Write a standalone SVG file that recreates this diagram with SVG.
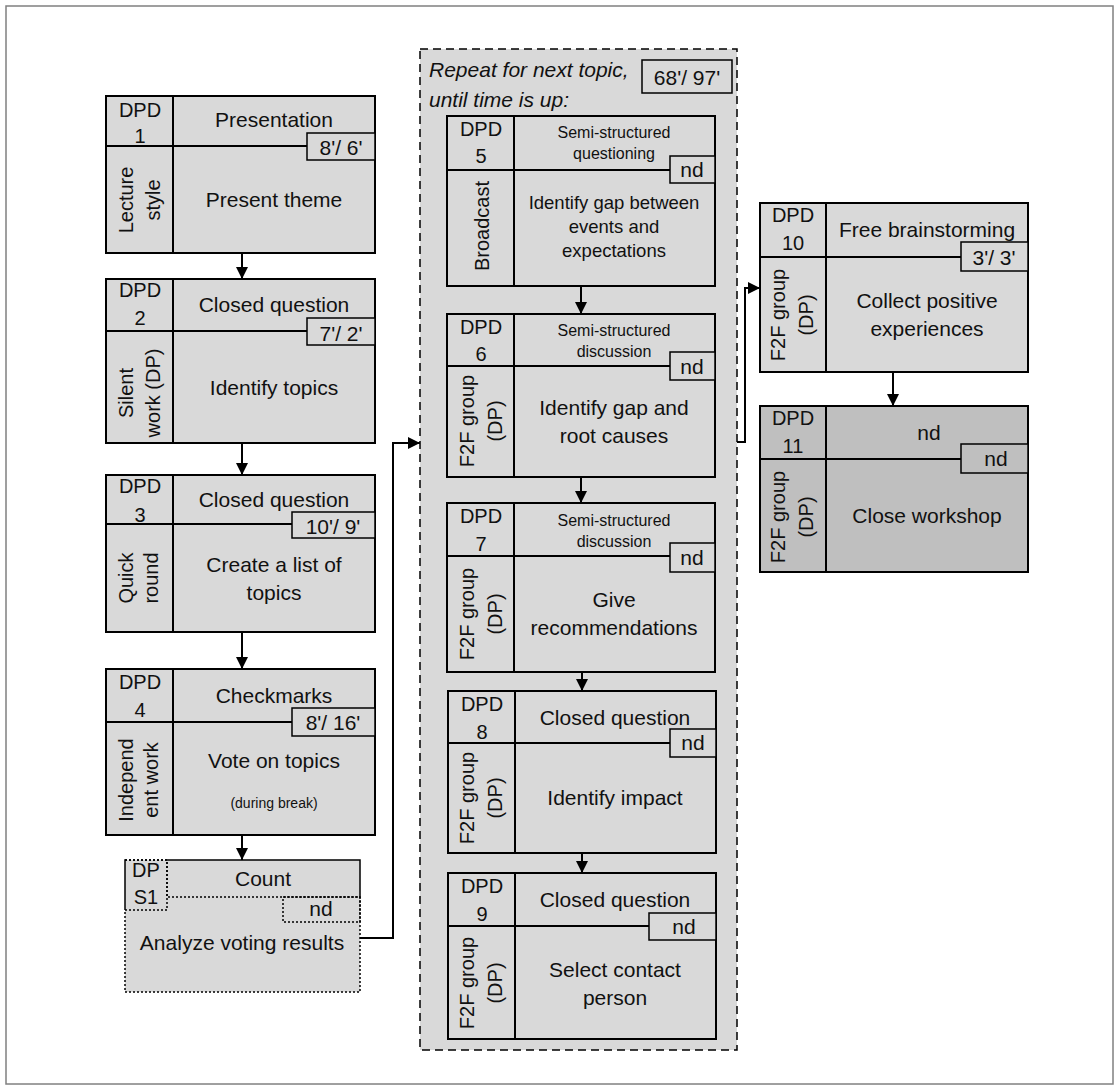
<svg xmlns="http://www.w3.org/2000/svg" width="1119" height="1090" viewBox="0 0 1119 1090">
<defs>
<style>
text{font-family:"Liberation Sans",Arial,sans-serif;fill:#111;}
.n{fill:#d9d9d9;stroke:#000;stroke-width:2;}
.d{fill:#bfbfbf;stroke:#000;stroke-width:2;}
.l{stroke:#000;stroke-width:2;fill:none;}
.t{fill:#d9d9d9;stroke:#000;stroke-width:1.5;}
.td{fill:#bfbfbf;stroke:#000;stroke-width:1.5;}
.dot{fill:none;stroke:#000;stroke-width:1.5;stroke-dasharray:2 2;}
.f21{font-size:21px;}
.f20{font-size:20px;}
.f16{font-size:16px;}
.f18{font-size:18.5px;}
.f14{font-size:14px;}
.m{text-anchor:middle;}
.c{stroke:#000;stroke-width:2;fill:none;marker-end:url(#ah);}
</style>
<marker id="ah" markerWidth="12" markerHeight="12" refX="12" refY="6" orient="auto" markerUnits="userSpaceOnUse"><path d="M0,0 L12,6 L0,12 z" fill="#000"/></marker>
</defs>
<rect x="6" y="6" width="1107" height="1078" fill="#fff" stroke="#808080" stroke-width="1.5"/>

<g id="loop">
<rect x="420" y="49" width="317" height="1001" fill="#d9d9d9" stroke="#000" stroke-width="1.5" stroke-dasharray="8 5"/>
<text x="429" y="77" class="f21" font-style="italic">Repeat for next topic,</text>
<text x="429" y="107" class="f21" font-style="italic">until time is up:</text>
<rect x="642" y="60" width="90" height="33" class="t"/>
<text x="687" y="85" class="f21 m">68'/ 97'</text>
</g>

<g id="dpd1">
<rect x="106" y="96" width="269" height="157" class="n"/>
<line x1="173" y1="96" x2="173" y2="253" class="l"/>
<line x1="106" y1="146" x2="307" y2="146" class="l"/>
<rect x="307" y="133" width="68" height="27" class="t"/>
<text x="140" y="117" class="f20 m">DPD</text>
<text x="140" y="143" class="f20 m">1</text>
<text x="274" y="127" class="f21 m">Presentation</text>
<text x="341" y="155" class="f21 m">8'/ 6'</text>
<text x="274" y="207" class="f21 m">Present theme</text>
<text transform="translate(133,200) rotate(-90)" class="f20 m">Lecture</text>
<text transform="translate(160,200) rotate(-90)" class="f20 m">style</text>
</g>

<g id="dpd2">
<rect x="106" y="279" width="269" height="164" class="n"/>
<line x1="173" y1="279" x2="173" y2="443" class="l"/>
<line x1="106" y1="331" x2="307" y2="331" class="l"/>
<rect x="307" y="318" width="68" height="27" class="t"/>
<text x="140" y="297" class="f20 m">DPD</text>
<text x="140" y="325" class="f20 m">2</text>
<text x="274" y="312" class="f21 m">Closed question</text>
<text x="341" y="341" class="f21 m">7'/ 2'</text>
<text x="274" y="395" class="f21 m">Identify topics</text>
<text transform="translate(133,393) rotate(-90)" class="f20 m">Silent</text>
<text transform="translate(160,393) rotate(-90)" class="f20 m">work (DP)</text>
</g>

<g id="dpd3">
<rect x="106" y="475" width="269" height="157" class="n"/>
<line x1="173" y1="475" x2="173" y2="632" class="l"/>
<line x1="106" y1="524" x2="292" y2="524" class="l"/>
<rect x="292" y="512" width="83" height="26" class="t"/>
<text x="140" y="493" class="f20 m">DPD</text>
<text x="140" y="522" class="f20 m">3</text>
<text x="274" y="507" class="f21 m">Closed question</text>
<text x="333" y="534" class="f21 m">10'/ 9'</text>
<text x="274" y="572" class="f21 m">Create a list of</text>
<text x="274" y="600" class="f21 m">topics</text>
<text transform="translate(133,578) rotate(-90)" class="f20 m">Quick</text>
<text transform="translate(158,578) rotate(-90)" class="f20 m">round</text>
</g>

<g id="dpd4">
<rect x="106" y="669" width="269" height="166" class="n"/>
<line x1="173" y1="669" x2="173" y2="835" class="l"/>
<line x1="106" y1="722" x2="292" y2="722" class="l"/>
<rect x="292" y="708" width="83" height="28" class="t"/>
<text x="140" y="689" class="f20 m">DPD</text>
<text x="140" y="717" class="f20 m">4</text>
<text x="274" y="703" class="f21 m">Checkmarks</text>
<text x="333" y="730" class="f21 m">8'/ 16'</text>
<text x="274" y="768" class="f21 m">Vote on topics</text>
<text x="274" y="808" class="f14 m">(during break)</text>
<text transform="translate(133,780) rotate(-90)" class="f20 m">Independ</text>
<text transform="translate(158,780) rotate(-90)" class="f20 m">ent work</text>
</g>

<g id="dps1">
<rect x="125" y="860" width="235" height="132" fill="#d9d9d9"/>
<rect x="125" y="860" width="235" height="132" class="dot"/>
<rect x="125" y="860" width="42" height="50" class="dot"/>
<rect x="167" y="860" width="193" height="37" class="dot"/>
<rect x="283" y="897" width="77" height="25" class="dot"/>
<text x="146" y="877" class="f20 m">DP</text>
<text x="146" y="904" class="f20 m">S1</text>
<text x="263" y="886" class="f21 m">Count</text>
<text x="321" y="916" class="f21 m">nd</text>
<text x="242" y="950" class="f21 m">Analyze voting results</text>
</g>

<g id="dpd5">
<rect x="447" y="116" width="268" height="170" class="n"/>
<line x1="514" y1="116" x2="514" y2="286" class="l"/>
<line x1="447" y1="170" x2="670" y2="170" class="l"/>
<rect x="670" y="156" width="45" height="27" class="t"/>
<text x="481" y="136" class="f20 m">DPD</text>
<text x="481" y="163" class="f20 m">5</text>
<text x="614" y="138" class="f16 m">Semi-structured</text>
<text x="614" y="159" class="f16 m">questioning</text>
<text x="692" y="177" class="f21 m">nd</text>
<text x="614" y="209" class="f18 m">Identify gap between</text>
<text x="614" y="233" class="f18 m">events and</text>
<text x="614" y="257" class="f18 m">expectations</text>
<text transform="translate(489,226) rotate(-90)" class="f20 m">Broadcast</text>
</g>

<g id="dpd6">
<rect x="447" y="314" width="268" height="163" class="n"/>
<line x1="514" y1="314" x2="514" y2="477" class="l"/>
<line x1="447" y1="366" x2="670" y2="366" class="l"/>
<rect x="670" y="352" width="45" height="28" class="t"/>
<text x="481" y="334" class="f20 m">DPD</text>
<text x="481" y="361" class="f20 m">6</text>
<text x="614" y="336" class="f16 m">Semi-structured</text>
<text x="614" y="357" class="f16 m">discussion</text>
<text x="692" y="374" class="f21 m">nd</text>
<text x="614" y="415" class="f21 m">Identify gap and</text>
<text x="614" y="443" class="f21 m">root causes</text>
<text transform="translate(474,421) rotate(-90)" class="f20 m">F2F group</text>
<text transform="translate(502,421) rotate(-90)" class="f20 m">(DP)</text>
</g>

<g id="dpd7">
<rect x="447" y="503" width="268" height="169" class="n"/>
<line x1="514" y1="503" x2="514" y2="672" class="l"/>
<line x1="447" y1="556" x2="670" y2="556" class="l"/>
<rect x="670" y="543" width="45" height="29" class="t"/>
<text x="481" y="523" class="f20 m">DPD</text>
<text x="481" y="551" class="f20 m">7</text>
<text x="614" y="526" class="f16 m">Semi-structured</text>
<text x="614" y="547" class="f16 m">discussion</text>
<text x="692" y="565" class="f21 m">nd</text>
<text x="614" y="607" class="f21 m">Give</text>
<text x="614" y="635" class="f21 m">recommendations</text>
<text transform="translate(474,614) rotate(-90)" class="f20 m">F2F group</text>
<text transform="translate(502,614) rotate(-90)" class="f20 m">(DP)</text>
</g>

<g id="dpd8">
<rect x="448" y="691" width="268" height="162" class="n"/>
<line x1="515" y1="691" x2="515" y2="853" class="l"/>
<line x1="448" y1="743" x2="670" y2="743" class="l"/>
<rect x="670" y="729" width="46" height="28" class="t"/>
<text x="482" y="711" class="f20 m">DPD</text>
<text x="482" y="739" class="f20 m">8</text>
<text x="615" y="725" class="f21 m">Closed question</text>
<text x="693" y="750" class="f21 m">nd</text>
<text x="615" y="805" class="f21 m">Identify impact</text>
<text transform="translate(474,798) rotate(-90)" class="f20 m">F2F group</text>
<text transform="translate(502,798) rotate(-90)" class="f20 m">(DP)</text>
</g>

<g id="dpd9">
<rect x="448" y="873" width="268" height="166" class="n"/>
<line x1="515" y1="873" x2="515" y2="1039" class="l"/>
<line x1="448" y1="926" x2="649" y2="926" class="l"/>
<rect x="649" y="913" width="67" height="27" class="t"/>
<text x="482" y="893" class="f20 m">DPD</text>
<text x="482" y="921" class="f20 m">9</text>
<text x="615" y="907" class="f21 m">Closed question</text>
<text x="684" y="934" class="f21 m">nd</text>
<text x="615" y="977" class="f21 m">Select contact</text>
<text x="615" y="1005" class="f21 m">person</text>
<text transform="translate(474,983) rotate(-90)" class="f20 m">F2F group</text>
<text transform="translate(502,983) rotate(-90)" class="f20 m">(DP)</text>
</g>

<g id="dpd10">
<rect x="760" y="203" width="268" height="169" class="n"/>
<line x1="826" y1="203" x2="826" y2="372" class="l"/>
<line x1="760" y1="257" x2="961" y2="257" class="l"/>
<rect x="961" y="242" width="67" height="29" class="t"/>
<text x="793" y="222" class="f20 m">DPD</text>
<text x="793" y="250" class="f20 m">10</text>
<text x="927" y="237" class="f21 m">Free brainstorming</text>
<text x="994" y="265" class="f21 m">3'/ 3'</text>
<text x="927" y="308" class="f21 m">Collect positive</text>
<text x="927" y="336" class="f21 m">experiences</text>
<text transform="translate(785,315) rotate(-90)" class="f20 m">F2F group</text>
<text transform="translate(813,315) rotate(-90)" class="f20 m">(DP)</text>
</g>

<g id="dpd11">
<rect x="760" y="406" width="268" height="166" class="d"/>
<line x1="826" y1="406" x2="826" y2="572" class="l"/>
<line x1="760" y1="459" x2="961" y2="459" class="l"/>
<rect x="961" y="444" width="67" height="29" class="td"/>
<text x="793" y="425" class="f20 m">DPD</text>
<text x="793" y="453" class="f20 m">11</text>
<text x="929" y="440" class="f21 m">nd</text>
<text x="996" y="466" class="f21 m">nd</text>
<text x="927" y="523" class="f21 m">Close workshop</text>
<text transform="translate(785,517) rotate(-90)" class="f20 m">F2F group</text>
<text transform="translate(813,517) rotate(-90)" class="f20 m">(DP)</text>
</g>

<g id="connectors">
<line x1="242" y1="253" x2="242" y2="279" class="c"/>
<line x1="242" y1="443" x2="242" y2="475" class="c"/>
<line x1="242" y1="632" x2="242" y2="669" class="c"/>
<line x1="242" y1="835" x2="242" y2="860" class="c"/>
<polyline points="360,938 393,938 393,443 420,443" class="c"/>
<line x1="581" y1="286" x2="581" y2="314" class="c"/>
<line x1="581" y1="477" x2="581" y2="503" class="c"/>
<line x1="582" y1="672" x2="582" y2="691" class="c"/>
<line x1="582" y1="853" x2="582" y2="873" class="c"/>
<polyline points="737,442 745,442 745,288 760,288" class="c"/>
<line x1="893" y1="372" x2="893" y2="406" class="c"/>
</g>
</svg>
